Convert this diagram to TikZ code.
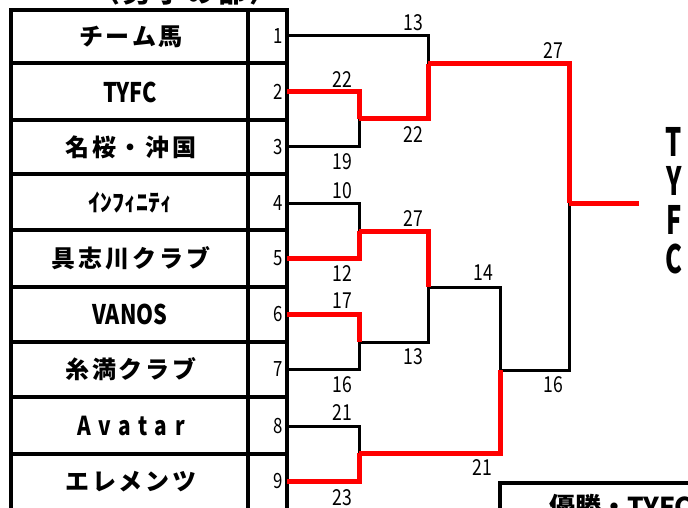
\documentclass[tikz,border=0pt]{standalone}
\usepackage{fontspec}
\newfontfamily\jpfont{Noto Sans CJK JP}
\newfontfamily\jpwide[LetterSpace=12]{Noto Sans CJK JP}
\newfontfamily\narrowfont[FakeStretch=0.8]{Noto Sans CJK JP}
\newfontfamily\tallfont[FakeStretch=0.65]{Noto Sans CJK JP}
\newfontfamily\narrowwide[FakeStretch=0.8,LetterSpace=30]{Noto Sans CJK JP}

\begin{document}
\begin{tikzpicture}[x=1pt,y=-1pt,
  grid/.style={line width=3.4pt},
  lose/.style={line width=3pt},
  win/.style={line width=5pt,red},
  team/.style={font=\jpwide\bfseries\fontsize{24}{24}\selectfont,inner sep=0},
  latin/.style={font=\narrowfont\bfseries\fontsize{27}{27}\selectfont,inner sep=0},
  seed/.style={font=\narrowfont\fontsize{21}{21}\selectfont,anchor=east,inner sep=4pt},
  score/.style={font=\narrowfont\fontsize{22}{22}\selectfont,inner sep=0}]

\useasboundingbox (0,0) rectangle (688,508);

% title (cut off at the top)
\node[font=\jpwide\bfseries\fontsize{28}{28}\selectfont,anchor=base] (title) at (185,3) {〈男子の部〉};

% table
\draw[grid] (11,10) rectangle (287,530);
\draw[grid] (248,10) -- (248,530);
\foreach \y in {63,120,174,230,287,342,397,454}
  \draw[grid] (11,\y) -- (287,\y);

% teams
\node[team] (t1) at (131,36.5) {チーム馬};
\node[latin] (t2) at (130,92) {TYFC};
\node[team] (t3) at (131,147) {名桜・沖国};
\node[font=\jpfont\bfseries\fontsize{24}{24}\selectfont,inner sep=0] (t4) at (130,202) {ｲﾝﾌｨﾆﾃｨ};
\node[team] (t5) at (131,258.5) {具志川クラブ};
\node[latin] (t6) at (130,314.5) {VANOS};
\node[team] (t7) at (131,369.5) {糸満クラブ};
\node[font=\narrowwide\bfseries\fontsize{26}{26}\selectfont,inner sep=0] (t8) at (131,425.5) {Avatar};
\node[team] (t9) at (131,482) {エレメンツ};

% seeds
\node[seed] (s1) at (287,36) {1};
\node[seed] (s2) at (287,92) {2};
\node[seed] (s3) at (287,147) {3};
\node[seed] (s4) at (287,203) {4};
\node[seed] (s5) at (287,258) {5};
\node[seed] (s6) at (287,314) {6};
\node[seed] (s7) at (287,369) {7};
\node[seed] (s8) at (287,426) {8};
\node[seed] (s9) at (287,481) {9};

% junctions
\coordinate (ma) at (359,119);
\coordinate (mb) at (428,64);
\coordinate (mc) at (359,231);
\coordinate (md) at (359,342);
\coordinate (me) at (428,287);
\coordinate (mf) at (359,453);
\coordinate (mg) at (500,370);
\coordinate (mh) at (569,203);
\coordinate (win) at (639,203);

% losers first, winners on top
\draw[lose] (s3.east) -| (ma);
\draw[lose] (s1.east) -| (mb);
\draw[lose] (s4.east) -| (mc);
\draw[lose] (s7.east) -| (md);
\draw[lose] (md) -| (me);
\draw[lose] (s8.east) -| (mf);
\draw[lose] (me) -| (mg);
\draw[lose] (mg) -| (mh);

\draw[win] (s2.east) -| (ma);
\draw[win] (ma) -| (mb);
\draw[win] (mb) -| (mh);
\draw[win] (mh) -- (win);
\draw[win] (s5.east) -| (mc);
\draw[win] (mc) -| (me);
\draw[win] (s6.east) -| (md);
\draw[win] (s9.east) -| (mf);
\draw[win] (mf) -| (mg);

% scores
\node[score] (a2) at (342,79.5) {22};
\node[score] (a3) at (342,162) {19};
\node[score] (b1) at (413,22.5) {13};
\node[score] (b2) at (413,134.5) {22};
\node[score] (c4) at (342,191) {10};
\node[score] (c5) at (342,274) {12};
\node[score] (d6) at (342,301) {17};
\node[score] (d7) at (342,385) {16};
\node[score] (e1) at (413,219) {27};
\node[score] (e2) at (413,357) {13};
\node[score] (f8) at (342,413) {21};
\node[score] (f9) at (342,498) {23};
\node[score] (g1) at (483,273) {14};
\node[score] (g2) at (482,468) {21};
\node[score] (h1) at (553,51) {27};
\node[score] (h2) at (553,385) {16};

% champion
\node[font=\tallfont\bfseries\fontsize{39}{39}\selectfont,align=center,inner sep=0] (champ) at (674,201) {T\\Y\\F\\C};

% result box (cut off)
\draw[line width=4pt] (500,483) rectangle (780,560);
\node[font=\jpfont\bfseries\fontsize{26}{26}\selectfont,anchor=base west,inner sep=0] (prize) at (549,516) {優勝・TYFC};
\end{tikzpicture}
\end{document}
